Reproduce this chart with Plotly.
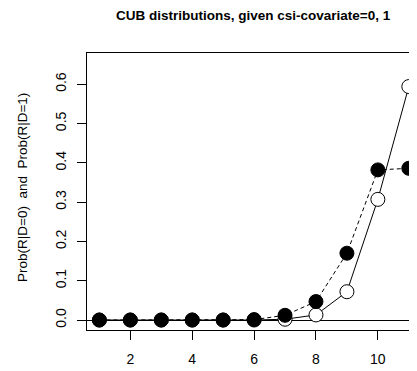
import plotly.graph_objects as go

categories = list(range(1, 12))
prob_d0 = [0.0, 0.0, 0.0, 0.0, 0.0, 0.0, 0.002, 0.013, 0.072, 0.307, 0.594]
prob_d1 = [0.0, 0.0, 0.0, 0.0, 0.0, 0.001, 0.012, 0.047, 0.170, 0.382, 0.386]
x_ticks = [2, 4, 6, 8, 10]
y_ticks = [0.0, 0.1, 0.2, 0.3, 0.4, 0.5, 0.6]
title_text = "CUB distributions, given csi-covariate=0, 1"
y_label = "Prob(R|D=0)  and  Prob(R|D=1)"

FONT = "Liberation Sans, Arial, sans-serif"
OFF = 8  # page body margin offset
W, H = 417 - OFF, 371 - OFF
L, R, T, B = 87 - OFF, 0, 53 - OFF, 41
PW = W - L - R
PH = H - T - B

fig = go.Figure()
fig.add_trace(go.Scatter(
    x=categories, y=prob_d0, mode="lines+markers",
    line=dict(color="black", width=1),
    marker=dict(size=14, color="white", line=dict(color="black", width=1)),
    showlegend=False, cliponaxis=False,
))
fig.add_trace(go.Scatter(
    x=categories, y=prob_d1, mode="lines+markers",
    line=dict(color="black", width=1, dash="4px,3px"),
    marker=dict(size=14, color="black", line=dict(color="black", width=1)),
    showlegend=False, cliponaxis=False,
))

fig.update_layout(
    width=W, height=H,
    margin=dict(l=L, r=R, t=T, b=B, autoexpand=False),
    paper_bgcolor="white", plot_bgcolor="white",
    font=dict(family=FONT, size=14, color="black"),
    xaxis=dict(
        range=[0.6, 11.2645], tickmode="array", tickvals=x_ticks,
        ticktext=[str(v) for v in x_ticks],
        showgrid=False, zeroline=False, automargin=False,
        showline=True, mirror=True, linecolor="black", linewidth=1,
        ticks="outside", ticklen=9, tickcolor="black", tickwidth=1,
        ticklabelstandoff=7,
        tickfont=dict(family=FONT, size=14, color="black"),
    ),
    yaxis=dict(
        range=[-0.0254, 0.6794], tickmode="array", tickvals=y_ticks,
        ticktext=[f"{v:.1f}" for v in y_ticks],
        showgrid=False, automargin=False,
        zeroline=True, zerolinecolor="black", zerolinewidth=1,
        showline=True, mirror=False, linecolor="black", linewidth=1,
        ticks="outside", ticklen=9, tickcolor="black", tickwidth=1,
        tickangle=-90, ticklabelstandoff=5,
        tickfont=dict(family=FONT, size=14, color="black"),
    ),
    annotations=[
        dict(text="<b>" + title_text + "</b>", xref="paper", yref="paper",
             x=(253 - 87) / PW, y=1 + (53 - 15) / PH,
             xanchor="center", yanchor="middle",
             showarrow=False, font=dict(family=FONT, size=13.5, color="black")),
        dict(text=y_label.replace(" ", "&nbsp;"), xref="paper", yref="paper",
             x=(22 - 87) / PW, y=(330 - 188) / PH,
             xanchor="center", yanchor="middle", textangle=-90,
             showarrow=False, font=dict(family=FONT, size=13.5, color="black")),
    ],
)

fig.write_html("out.html")
